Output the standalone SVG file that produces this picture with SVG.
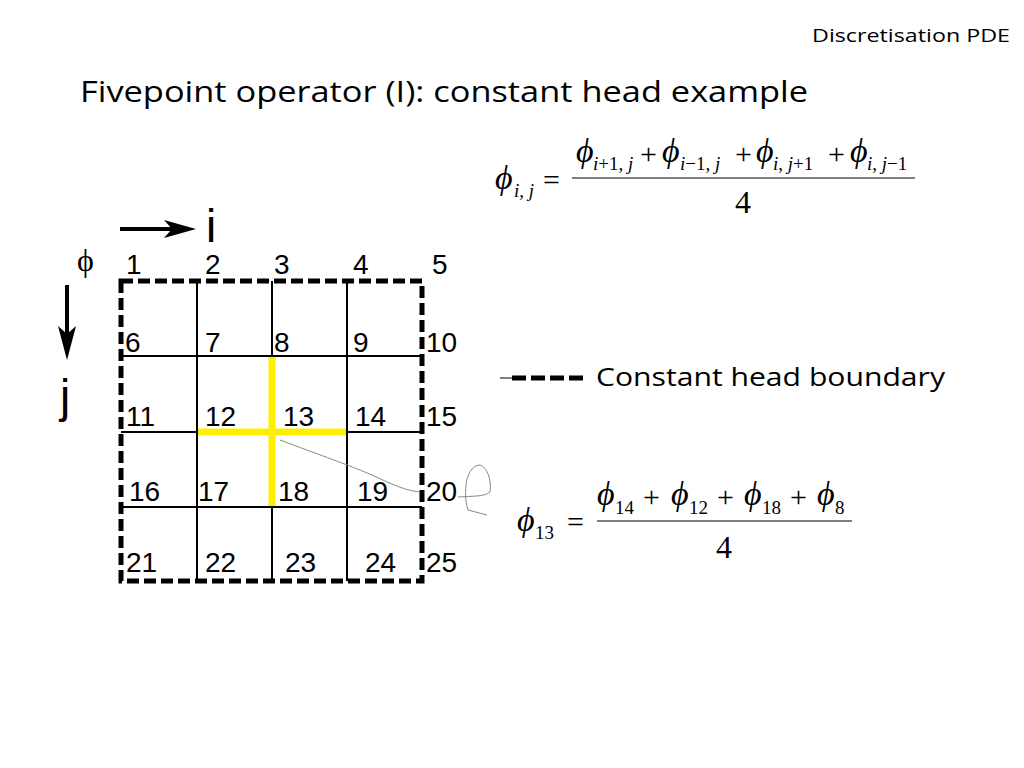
<svg xmlns="http://www.w3.org/2000/svg" width="1024" height="768" viewBox="0 0 1024 768">
<style>
.comic{font-family:"Open Sans","DejaVu Sans",sans-serif;fill:#000}
.num{font-family:"Liberation Sans",Arial,sans-serif;font-size:28px;fill:#000}
.big{font-family:"Liberation Sans",Arial,sans-serif;font-size:46px;fill:#000}
.math{font-family:"Liberation Serif","Times New Roman",serif;fill:#000}
.it{font-style:italic}
.grid{stroke:#000;stroke-width:2;fill:none}
.hl{stroke:#ffee00;stroke-width:7;fill:none}
.bnd{stroke:#000;stroke-width:5;stroke-dasharray:12 5;fill:none}
.ax{stroke:#000;stroke-width:4;fill:none}
.head{fill:#000}
</style>
<rect width="1024" height="768" fill="#fff"/>

<text class="comic" x="812" y="42" font-size="18" textLength="198" lengthAdjust="spacingAndGlyphs">Discretisation PDE</text>
<text class="comic" x="80" y="102" font-size="30" textLength="728" lengthAdjust="spacingAndGlyphs">Fivepoint operator (I): constant head example</text>

<g id="grid">
<line class="grid" x1="197" y1="281" x2="197" y2="581"/>
<line class="grid" x1="272" y1="281" x2="272" y2="581"/>
<line class="grid" x1="347" y1="281" x2="347" y2="581"/>
<line class="grid" x1="121" y1="356" x2="422" y2="356"/>
<line class="grid" x1="121" y1="432" x2="422" y2="432"/>
<line class="grid" x1="121" y1="507" x2="422" y2="507"/>
</g>
<g id="stencil">
<line class="hl" x1="272" y1="357" x2="272" y2="506"/>
<line class="hl" x1="198" y1="432" x2="346" y2="432"/>
</g>
<g id="boundary">
<rect class="bnd" x="121" y="281" width="301" height="300"/>
</g>

<g id="labels">
<text class="num" x="126" y="274">1</text>
<text class="num" x="205" y="274">2</text>
<text class="num" x="274" y="274">3</text>
<text class="num" x="353" y="274">4</text>
<text class="num" x="432" y="274">5</text>
<text class="num" x="125" y="352">6</text>
<text class="num" x="205" y="352">7</text>
<text class="num" x="274" y="352">8</text>
<text class="num" x="353" y="352">9</text>
<text class="num" x="426" y="352">10</text>
<text class="num" x="126" y="426">11</text>
<text class="num" x="205" y="426">12</text>
<text class="num" x="283" y="426">13</text>
<text class="num" x="355" y="426">14</text>
<text class="num" x="426" y="426">15</text>
<text class="num" x="129" y="501">16</text>
<text class="num" x="198" y="501">17</text>
<text class="num" x="278" y="501">18</text>
<text class="num" x="357" y="501">19</text>
<text class="num" x="426" y="501">20</text>
<text class="num" x="126" y="572">21</text>
<text class="num" x="205" y="572">22</text>
<text class="num" x="285" y="572">23</text>
<text class="num" x="365" y="572">24</text>
<text class="num" x="426" y="572">25</text>
</g>

<g id="axes">
<line class="ax" x1="120" y1="229" x2="180" y2="229"/>
<path class="head" d="M196,229 L164,220 L172,229 L164,238 z"/>
<text class="big" x="206" y="242">i</text>
<line class="ax" x1="67" y1="285" x2="67" y2="340"/>
<path class="head" d="M67,360 L58,326 L67,334 L76,326 z"/>
<text class="big" x="60" y="412">j</text>
<text class="math" x="77" y="271" font-size="32">ϕ</text>
</g>

<g id="scribble">
<path d="M280,440 C320,455 340,462 360,470 C385,480 400,490 420,492" stroke="#888" stroke-width="1" fill="none"/>
<path d="M458,497 C470,496 485,497 490,492 C492,480 487,467 480,465 C472,465 467,475 466,485 C465,495 466,505 468,510 L487,515" stroke="#888" stroke-width="1" fill="none"/>
</g>

<g id="legend">
<line x1="500" y1="378" x2="512" y2="378" stroke="#000" stroke-width="1"/>
<line x1="512" y1="378" x2="585" y2="378" stroke="#000" stroke-width="5" stroke-dasharray="14 5"/>
<text class="comic" x="596" y="386" font-size="25" textLength="349" lengthAdjust="spacingAndGlyphs">Constant head boundary</text>
</g>

<g id="formula1" class="math">
<text class="it" x="495" y="189" font-size="34">ϕ</text>
<text class="it" x="514" y="197" font-size="19">i, j</text>
<text x="543" y="190" font-size="30">=</text>
<line x1="572" y1="178" x2="915" y2="178" stroke="#000" stroke-width="1.2"/>
<text class="it" x="576" y="162" font-size="34">ϕ</text>
<text x="593" y="170" font-size="19"><tspan class="it">i</tspan>+1, <tspan class="it">j</tspan></text>
<text x="640" y="164" font-size="30">+</text>
<text class="it" x="662" y="162" font-size="34">ϕ</text>
<text x="680" y="170" font-size="19"><tspan class="it">i</tspan>−1, <tspan class="it">j</tspan></text>
<text x="735" y="164" font-size="30">+</text>
<text class="it" x="756" y="162" font-size="34">ϕ</text>
<text x="773" y="170" font-size="19"><tspan class="it">i</tspan>, <tspan class="it">j</tspan>+1</text>
<text x="828" y="164" font-size="30">+</text>
<text class="it" x="850" y="162" font-size="34">ϕ</text>
<text x="867" y="170" font-size="19"><tspan class="it">i</tspan>, <tspan class="it">j</tspan>−1</text>
<text x="735" y="213" font-size="32">4</text>
</g>

<g id="formula2" class="math">
<text class="it" x="517" y="531" font-size="34">ϕ</text>
<text x="535" y="539" font-size="19">13</text>
<text x="567" y="532" font-size="30">=</text>
<line x1="597" y1="521" x2="852" y2="521" stroke="#000" stroke-width="1.2"/>
<text class="it" x="597" y="505" font-size="34">ϕ</text>
<text x="615" y="514" font-size="19">14</text>
<text x="643" y="507" font-size="30">+</text>
<text class="it" x="671" y="505" font-size="34">ϕ</text>
<text x="689" y="514" font-size="19">12</text>
<text x="717" y="507" font-size="30">+</text>
<text class="it" x="744" y="505" font-size="34">ϕ</text>
<text x="762" y="514" font-size="19">18</text>
<text x="790" y="507" font-size="30">+</text>
<text class="it" x="817" y="505" font-size="34">ϕ</text>
<text x="835" y="514" font-size="19">8</text>
<text x="716" y="558" font-size="32">4</text>
</g>
</svg>
